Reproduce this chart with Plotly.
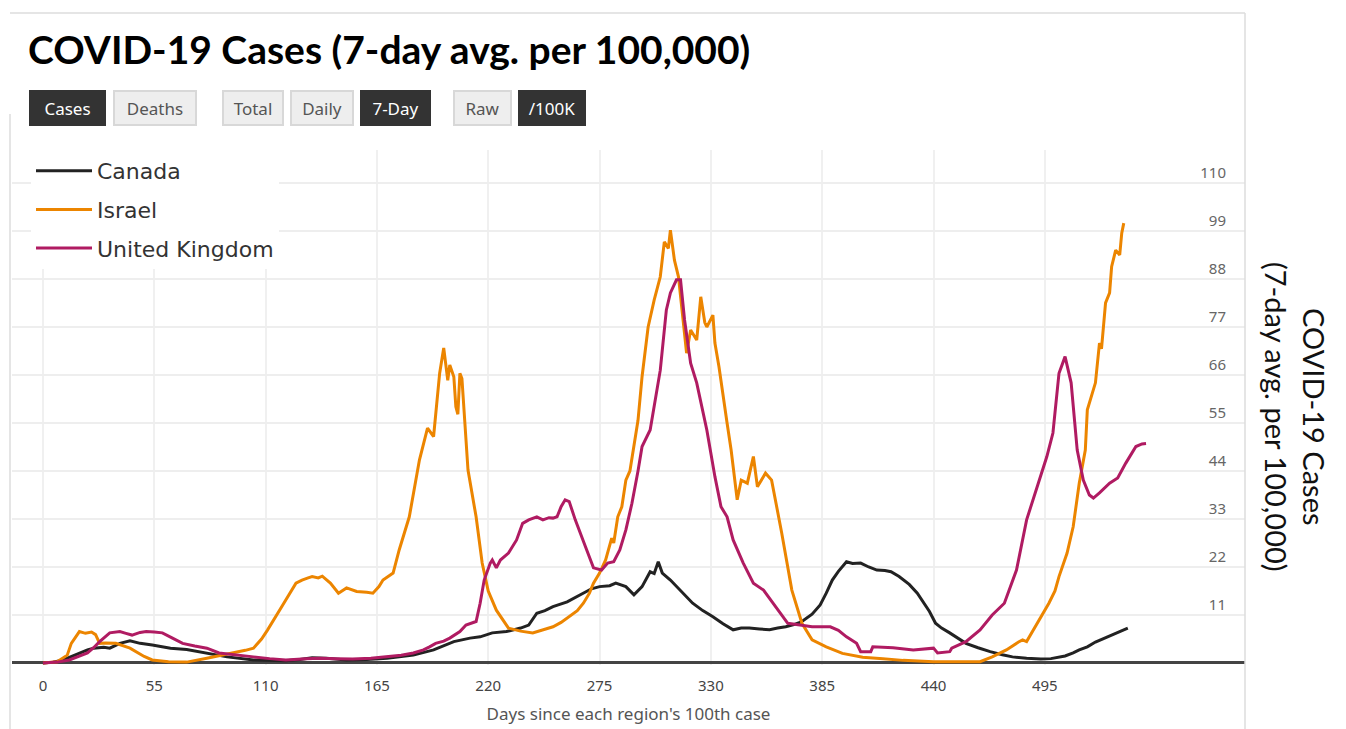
import plotly.graph_objects as go

# ---------------- data ----------------
days_ca = [0, 5, 10, 14, 18, 22, 25, 30, 33, 38, 43, 48, 54, 63, 71, 81, 91, 104, 112, 120, 127, 133, 140, 150,
           160, 170, 183, 193, 203, 211, 216, 222, 229, 236, 240, 244, 248, 252, 259, 263, 267, 271, 275, 280,
           283, 288, 292, 296, 300, 302, 304, 306, 310, 313, 317, 321, 326, 331, 336, 341, 345, 349, 354, 359,
           363, 367, 371, 375, 380, 384, 387, 390, 393, 397, 400, 404, 408, 412, 416, 419, 423, 428, 432, 435,
           438, 441, 444, 448, 452, 456, 462, 468, 474, 479, 486, 493, 498, 502, 505, 509, 512, 516, 520, 526,
           531, 536]
vals_ca = [0, 0.2, 0.7, 1.5, 2.3, 3.0, 3.4, 3.6, 3.4, 4.5, 5.1, 4.5, 4.1, 3.4, 3.1, 2.3, 1.4, 0.7, 0.6, 0.5, 0.8,
           1.2, 1.1, 0.7, 0.8, 1.1, 1.8, 3.0, 4.9, 5.7, 6.0, 6.9, 7.2, 8.0, 8.7, 11.4, 12.0, 12.9, 14.0, 15.0,
           16.0, 17.0, 17.5, 17.7, 18.3, 17.5, 15.6, 17.5, 20.9, 20.5, 23.2, 20.6, 19.0, 17.5, 15.5, 13.7, 12.0,
           10.6, 9.0, 7.6, 8.0, 8.0, 7.8, 7.6, 8.0, 8.3, 8.8, 9.5, 11.2, 13.3, 16.0, 19.0, 21.0, 23.2, 22.8,
           22.9, 22.0, 21.3, 21.2, 20.9, 19.8, 18.0, 16.0, 14.0, 11.8, 9.1, 8.0, 6.9, 5.7, 4.5, 3.5, 2.6, 1.9,
           1.4, 1.1, 0.9, 1.0, 1.4, 1.6, 2.3, 3.0, 3.7, 4.8, 6.0, 7.0, 8.0]

days_il = [0, 7, 12, 14, 18, 21, 24, 26, 28, 31, 36, 43, 50, 54, 62, 71, 81, 88, 94, 100, 104, 108, 111, 115, 119,
           125, 128, 131, 133, 136, 138, 142, 146, 150, 155, 160, 163, 166, 168, 173, 176, 181, 186, 190, 193,
           196, 198, 200, 201, 203, 204, 205, 206, 207, 210, 214, 217, 220, 224, 230, 236, 242, 247, 252, 256,
           260, 264, 267, 270, 272, 275, 278, 281, 282, 284, 286, 288, 290, 292, 294, 296, 299, 302, 305, 307,
           309, 310, 312, 314, 317, 318, 320, 323, 325, 327, 328, 331, 332, 334, 338, 340, 343, 345, 348, 351,
           353, 355, 357, 360, 365, 370, 375, 380, 387, 395, 405, 415, 425, 440, 455, 463, 469, 476, 482, 484,
           486, 490, 493, 497, 500, 502, 506, 509, 512, 515, 516, 520, 522, 523, 525, 527, 528, 530, 532, 533,
           534]
vals_il = [0, 0.3, 1.8, 4.5, 7.2, 6.8, 7.1, 6.5, 4.5, 4.6, 4.5, 3.4, 1.5, 0.7, 0.3, 0.2, 1.1, 1.7, 2.3, 2.9, 3.4,
           5.5, 7.6, 10.5, 13.7, 18.3, 19.0, 19.5, 19.8, 19.5, 19.9, 18.3, 16.0, 17.2, 16.4, 16.2, 16.0, 17.5,
           19.0, 20.6, 25.9, 33.5, 46.5, 53.8, 51.9, 66.4, 72.2, 64.8, 68.3, 65.6, 58.7, 57.0, 66.4, 65.2, 44.2,
           33.5, 22.9, 16.5, 12.1, 8.0, 7.3, 6.9, 7.6, 8.3, 9.3, 10.6, 12.0, 13.7, 16.0, 18.3, 20.6, 23.6, 28.6,
           27.5, 33.5, 35.8, 41.9, 44.0, 50.3, 55.6, 65.6, 77.0, 83.2, 88.5, 96.5, 95.0, 99.2, 92.3, 88.5, 74.8,
           71.0, 76.3, 74.0, 83.9, 78.0, 77.0, 79.7, 73.3, 67.9, 55.0, 48.8, 37.4, 41.9, 41.2, 47.3, 40.4, 42.0,
           43.5, 41.9, 29.8, 16.7, 9.1, 5.3, 3.7, 2.2, 1.3, 1.0, 0.6, 0.3, 0.2, 0.3, 1.4, 3.0, 4.8, 5.3, 4.9,
           8.0, 10.6, 13.7, 16.5, 19.8, 25.2, 31.2, 41.2, 48.8, 58.0, 64.2, 73.3, 72.0, 82.5, 84.8, 90.8, 94.6,
           93.5, 98.5, 100.8]

days_uk = [0, 7, 13, 18, 22, 25, 28, 33, 38, 41, 44, 48, 51, 55, 59, 64, 69, 75, 81, 87, 95, 104, 112, 120, 130,
           137, 145, 153, 162, 170, 177, 183, 188, 191, 194, 198, 201, 206, 209, 214, 216, 218, 221, 222, 224,
           226, 230, 234, 237, 240, 244, 247, 250, 252, 254, 256, 258, 260, 263, 268, 272, 276, 279, 282, 285,
           288, 291, 294, 296, 300, 302, 305, 308, 310, 313, 315, 317, 320, 323, 328, 332, 335, 338, 341, 346,
           351, 356, 362, 368, 374, 380, 389, 393, 397, 402, 404, 409, 410, 420, 430, 440, 442, 448, 449, 456,
           463, 469, 475, 481, 486, 492, 496, 499, 502, 505, 508, 511, 514, 517, 519, 522, 527, 531, 535, 540,
           543, 545]
vals_uk = [0, 0.2, 0.7, 1.5, 2.3, 3.5, 4.9, 6.9, 7.2, 6.8, 6.4, 7.0, 7.2, 7.1, 6.9, 5.7, 4.5, 3.9, 3.4, 2.3, 1.8,
           1.4, 1.0, 0.7, 1.0, 1.1, 1.0, 0.9, 1.1, 1.4, 1.8, 2.3, 3.0, 3.7, 4.5, 5.0, 5.7, 7.2, 8.7, 9.5, 13.7,
           19.0, 22.9, 23.6, 21.8, 23.6, 25.2, 28.2, 32.0, 32.8, 33.5, 32.8, 33.3, 33.2, 33.5, 35.8, 37.4, 37.0,
           32.8, 26.7, 21.8, 21.3, 22.9, 23.2, 25.9, 30.5, 36.6, 44.0, 49.6, 53.4, 58.7, 67.1, 80.9, 84.8, 87.8,
           87.8, 78.6, 68.7, 64.2, 53.4, 42.7, 35.8, 33.5, 28.2, 22.9, 18.3, 16.7, 12.9, 9.1, 8.7, 8.3, 8.3, 7.5,
           6.0, 4.5, 2.6, 2.6, 3.7, 3.5, 3.0, 3.4, 2.3, 2.6, 3.4, 4.9, 7.6, 11.0, 13.7, 21.3, 32.8, 41.2, 47.3,
           52.7, 66.4, 70.2, 64.2, 48.8, 41.9, 38.5, 37.8, 39.0, 41.2, 42.4, 45.8, 49.6, 50.2, 50.3]

x_ticks = [0, 55, 110, 165, 220, 275, 330, 385, 440, 495]
y_ticks = [11, 22, 33, 44, 55, 66, 77, 88, 99, 110]

buttons = ["Cases", "Deaths", "Total", "Daily", "7-Day", "Raw", "/100K"]
buttons_active = [True, False, False, False, True, False, True]

# ---------------- layout geometry (page pixels; body margin removed) ----------------
W, H = 1346, 729
L, R, T, B = 12, 1245, 150, 665          # plot area
PW, PH = R - L, B - T


def fx(p):
    return (p - L) / PW


def fy(p):
    return (B - p) / PH


fig = go.Figure()
series = [
    ("Canada", days_ca, vals_ca, "#222222"),
    ("Israel", days_il, vals_il, "#EC8500"),
    ("United Kingdom", days_uk, vals_uk, "#B01B62"),
]
for name, xs, ys, col in series:
    fig.add_trace(go.Scatter(x=xs, y=ys, mode="lines", name=name, legendgroup=name,
                             line=dict(color=col, width=3), hoverinfo="x+y+name"))

# button boxes (left px, right px)
btn_pos = [(29, 106), (113, 197), (222, 284), (290, 354), (360, 431), (453, 512), (518, 586)]
annotations = []
for lab, act, (x0, x1) in zip(buttons, buttons_active, btn_pos):
    annotations.append(dict(
        text=lab, xref="paper", yref="paper", x=fx((x0 + x1) / 2), y=fy(108),
        xanchor="center", yanchor="middle", showarrow=False,
        width=(x1 - x0) - 4, height=32, borderpad=0, borderwidth=2,
        bgcolor="#333333" if act else "#EEEEEE",
        bordercolor="#333333" if act else "#D8D8D8",
        font=dict(family="Noto Sans", size=17, color="#FFFFFF" if act else "#555555"),
    ))

# right-side axis title
annotations.append(dict(
    text="COVID-19 Cases<br>(7-day avg. per 100,000)", xref="paper", yref="paper",
    x=fx(1296), y=fy(417), xanchor="center", yanchor="middle", showarrow=False, textangle=90,
    font=dict(family="Lato", size=29, color="#111111"),
))

shapes = [
    dict(type="line", xref="paper", yref="paper", x0=fx(10), x1=fx(1245), y0=fy(13), y1=fy(13),
         line=dict(color="#DDDDDD", width=1.5)),
    dict(type="line", xref="paper", yref="paper", x0=fx(10), x1=fx(10), y0=fy(114), y1=fy(729),
         line=dict(color="#DDDDDD", width=1.5)),
    dict(type="line", xref="paper", yref="paper", x0=fx(1245), x1=fx(1245), y0=fy(13), y1=fy(729),
         line=dict(color="#DDDDDD", width=1.5)),
]

fig.update_layout(
    width=W, height=H,
    margin=dict(l=L, r=W - R, t=T, b=H - B, pad=0, autoexpand=False),
    paper_bgcolor="white", plot_bgcolor="white",
    title=dict(text="<b>COVID-19 Cases (7-day avg. per 100,000)</b>", xref="container", yref="container",
               x=28 / W, y=1 - 50 / H, xanchor="left", yanchor="middle",
               font=dict(family="Lato", size=39, color="#000000")),
    xaxis=dict(range=[-15.3, 593.9], tickvals=x_ticks, showgrid=True, gridcolor="#F0F0F0", gridwidth=2,
               zeroline=False, showline=False, ticks="", ticklabelstandoff=10, automargin=False,
               tickfont=dict(family="Noto Sans", size=15, color="#444444"),
               title=dict(text="Days since each region's 100th case", standoff=14,
                          font=dict(family="Noto Sans", size=17, color="#555555"))),
    yaxis=dict(range=[-0.46, 117.55], side="right", tickvals=y_ticks, ticklabelposition="inside top",
               ticklabelstandoff=16, ticks="", showgrid=True, gridcolor="#EEEEEE", gridwidth=2,
               zeroline=True, zerolinecolor="#444444", zerolinewidth=3, showline=False, automargin=False,
               tickfont=dict(family="Noto Sans", size=15, color="#666666")),
    legend=dict(x=fx(31), y=fy(150), xanchor="left", yanchor="top", bgcolor="white",
                font=dict(family="DejaVu Sans", size=22, color="#333333"), tracegroupgap=7,
                itemwidth=56, itemclick=False),
    annotations=annotations,
    shapes=shapes,
    showlegend=True,
)

fig.write_html("out.html", config={"displayModeBar": False},
               post_script="document.body.style.margin='0px';")
